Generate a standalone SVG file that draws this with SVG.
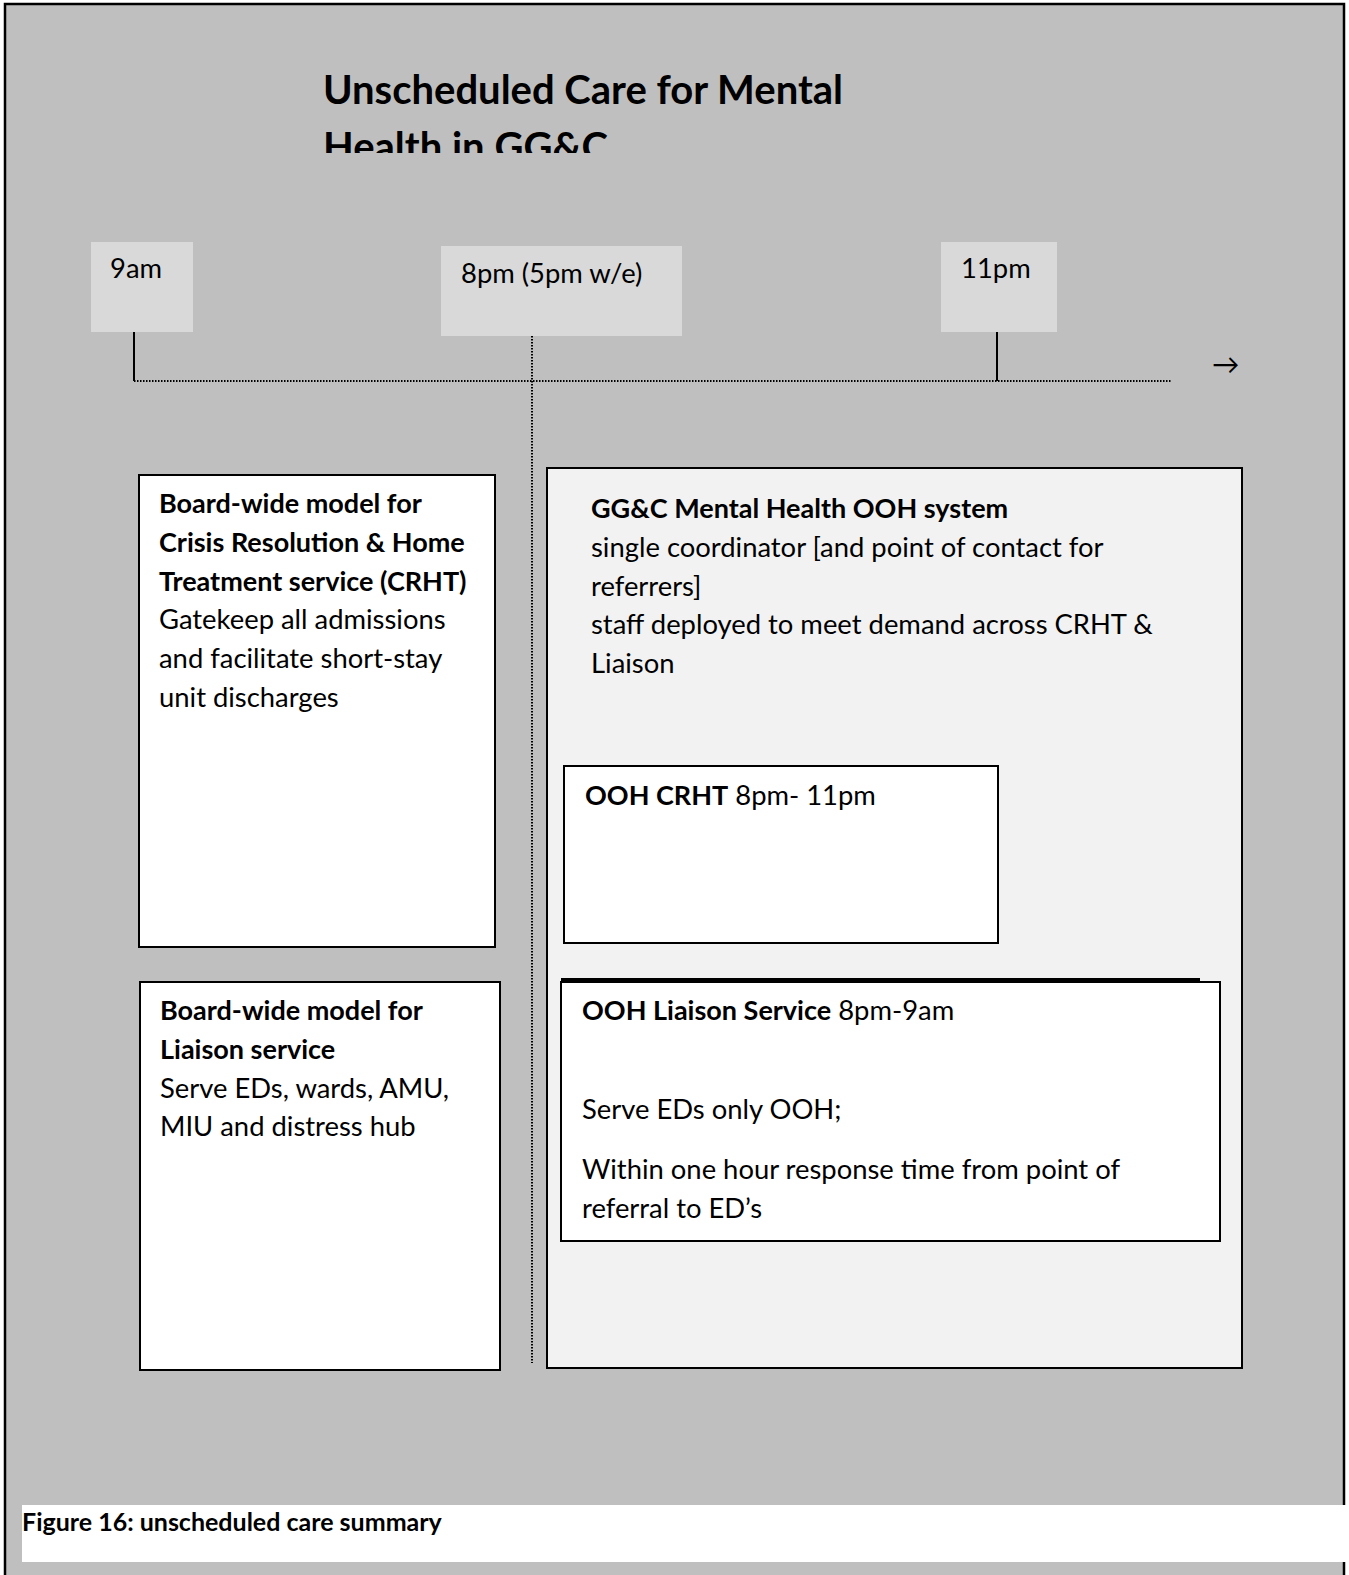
<svg xmlns="http://www.w3.org/2000/svg" width="1349" height="1575" viewBox="0 0 1349 1575">
<defs>
<style>
text{font-family:Lato,"Open Sans","Liberation Sans",sans-serif;fill:#000;}
.t{font-size:27.4px;}
.b{font-weight:bold;font-size:27px;}
.title{font-size:40px;font-weight:bold;}
.lbl{fill:#d9d9d9;}
.box{fill:#fff;stroke:#000;stroke-width:2;}
.big{fill:#f2f2f2;stroke:#000;stroke-width:2;}
.dot{stroke:#000;stroke-width:2;stroke-dasharray:1.5 1.5;fill:none;}
.tick{stroke:#000;stroke-width:2;fill:none;}
</style>
<clipPath id="tc"><rect x="0" y="0" width="1349" height="153"/></clipPath>
</defs>
<rect x="0" y="0" width="1349" height="1575" fill="#fff"/>
<rect id="frame" x="5" y="4" width="1339" height="1580" fill="#bfbfbf" stroke="#000" stroke-width="2.5"/>
<g id="title" clip-path="url(#tc)">
<text class="title" x="323" y="104">Unscheduled Care for Mental</text>
<text class="title" x="323" y="161">Health in GG&amp;C</text>
</g>
<g id="label-9am"><rect class="lbl" x="91" y="242" width="102" height="90"/><text class="t" x="110" y="278">9am</text></g>
<g id="label-8pm"><rect class="lbl" x="441" y="246" width="241" height="90"/><text class="t" x="461" y="283">8pm (5pm w/e)</text></g>
<g id="label-11pm"><rect class="lbl" x="941" y="242" width="116" height="90"/><text class="t" x="961" y="278">11pm</text></g>
<g id="connectors">
<line class="dot" x1="134" y1="381" x2="1171" y2="381"/>
<line class="tick" x1="134" y1="332" x2="134" y2="381"/>
<line class="tick" x1="997" y1="332" x2="997" y2="381"/>
<line class="dot" x1="532" y1="336" x2="532" y2="1363"/>
<text class="t" x="1212" y="374">→</text>
</g>
<g id="crht">
<rect class="box" x="139" y="475" width="356" height="472"/>
<text class="t b" x="159" y="513">Board-wide model for</text>
<text class="t b" x="159" y="552">Crisis Resolution &amp; Home</text>
<text class="t b" x="159" y="591">Treatment service (CRHT)</text>
<text class="t" x="159" y="629">Gatekeep all admissions</text>
<text class="t" x="159" y="668">and facilitate short-stay</text>
<text class="t" x="159" y="707">unit discharges</text>
</g>
<g id="liaison">
<rect class="box" x="140" y="982" width="360" height="388"/>
<text class="t b" x="160" y="1020">Board-wide model for</text>
<text class="t b" x="160" y="1059">Liaison service</text>
<text class="t" x="160" y="1098">Serve EDs, wards, AMU,</text>
<text class="t" x="160" y="1136">MIU and distress hub</text>
</g>
<g id="ooh-system">
<rect class="big" x="547" y="468" width="695" height="900"/>
<text class="t b" x="591" y="518">GG&amp;C Mental Health OOH system</text>
<text class="t" x="591" y="557">single coordinator [and point of contact for</text>
<text class="t" x="591" y="596">referrers]</text>
<text class="t" x="591" y="634">staff deployed to meet demand across CRHT &amp;</text>
<text class="t" x="591" y="673">Liaison</text>
</g>
<g id="ooh-crht">
<rect class="box" x="564" y="766" width="434" height="177"/>
<text class="t" x="585" y="805"><tspan class="b">OOH CRHT</tspan> 8pm- 11pm</text>
</g>
<g id="ooh-liaison">
<rect class="box" x="561" y="982" width="659" height="259"/>
<line x1="561" y1="979.5" x2="1200" y2="979.5" stroke="#000" stroke-width="3"/>
<text class="t" x="582" y="1020"><tspan class="b">OOH Liaison Service</tspan> 8pm-9am</text>
<text class="t" x="582" y="1119">Serve EDs only OOH;</text>
<text class="t" x="582" y="1179">Within one hour response time from point of</text>
<text class="t" x="582" y="1218">referral to ED’s</text>
</g>
<g id="caption">
<rect x="22" y="1505" width="1327" height="57" fill="#fff"/>
<text x="22" y="1531" style="font-size:25px;font-weight:bold">Figure 16: unscheduled care summary</text>
</g>
</svg>
